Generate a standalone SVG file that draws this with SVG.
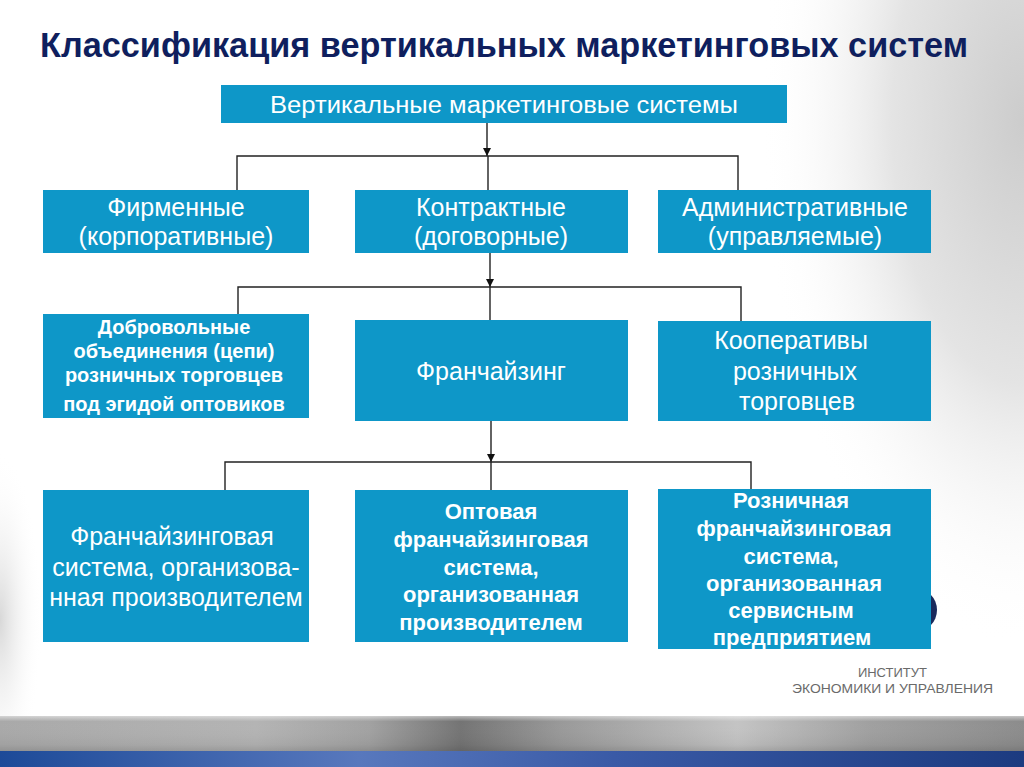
<svg xmlns="http://www.w3.org/2000/svg" width="1024" height="767" viewBox="0 0 1024 767">
<defs>
  <radialGradient id="bgR" cx="1024" cy="120" r="330" gradientUnits="userSpaceOnUse" gradientTransform="translate(1024 120) scale(0.8 1.6) translate(-1024 -120)">
    <stop offset="0" stop-color="#cccccc"/>
    <stop offset="0.5" stop-color="#e4e4e4"/>
    <stop offset="1" stop-color="#ffffff" stop-opacity="0"/>
  </radialGradient>
  <radialGradient id="leftR" cx="0" cy="620" r="120" gradientUnits="userSpaceOnUse" gradientTransform="translate(0 620) scale(0.35 1.4) translate(0 -620)">
    <stop offset="0" stop-color="#d8d8d8"/>
    <stop offset="1" stop-color="#ffffff" stop-opacity="0"/>
  </radialGradient>
  <linearGradient id="grayBand" x1="0" y1="0" x2="1" y2="0">
    <stop offset="0" stop-color="#a9a9a9"/>
    <stop offset="0.25" stop-color="#b4b4b4"/>
    <stop offset="0.36" stop-color="#a2a2a2"/>
    <stop offset="0.45" stop-color="#747474"/>
    <stop offset="0.55" stop-color="#9a9a9a"/>
    <stop offset="0.72" stop-color="#c4c4c4"/>
    <stop offset="0.85" stop-color="#a0a0a0"/>
    <stop offset="1" stop-color="#8c8c8c"/>
  </linearGradient>
  <linearGradient id="grayShade" x1="0" y1="0" x2="0" y2="1">
    <stop offset="0" stop-color="#ffffff" stop-opacity="0.5"/>
    <stop offset="0.15" stop-color="#ffffff" stop-opacity="0"/>
    <stop offset="0.8" stop-color="#000000" stop-opacity="0.05"/>
    <stop offset="1" stop-color="#000000" stop-opacity="0.15"/>
  </linearGradient>
  <linearGradient id="blueBand" x1="0" y1="0" x2="1" y2="0">
    <stop offset="0" stop-color="#1d4a98"/>
    <stop offset="0.35" stop-color="#5878bd"/>
    <stop offset="0.6" stop-color="#3a5aa6"/>
    <stop offset="1" stop-color="#1c3b80"/>
  </linearGradient>
  <marker id="arr" viewBox="0 0 10 10" refX="10" refY="5" markerWidth="8" markerHeight="8" markerUnits="userSpaceOnUse" orient="auto">
    <path d="M0,0 L10,5 L0,10 z" fill="#111"/>
  </marker>
  <style>
    .box { fill: #0e97c8; }
    .t { font-family: "Liberation Sans", Arial, sans-serif; font-size: 25px; fill: #ffffff; text-anchor: middle; }
    .b { font-family: "Liberation Sans", Arial, sans-serif; font-size: 20px; font-weight: bold; fill: #ffffff; text-anchor: middle; }
    .b2 { font-family: "Liberation Sans", Arial, sans-serif; font-size: 22px; font-weight: bold; fill: #ffffff; text-anchor: middle; }
    .c { stroke: #222; stroke-width: 1.4; fill: none; }
    .title { font-family: "Liberation Sans", Arial, sans-serif; font-size: 35px; font-weight: bold; fill: #0f1f5e; }
    .inst { font-family: "Liberation Sans", Arial, sans-serif; font-size: 13px; fill: #6a6a6a; text-anchor: end; }
  </style>
</defs>

<!-- background -->
<rect x="0" y="0" width="1024" height="767" fill="#ffffff"/>
<rect x="600" y="0" width="424" height="716" fill="url(#bgR)"/>
<rect x="0" y="420" width="60" height="296" fill="url(#leftR)"/>
<rect x="0" y="716" width="1024" height="36" fill="url(#grayBand)"/>
<rect x="0" y="716" width="1024" height="36" fill="url(#grayShade)"/>
<rect x="0" y="751" width="1024" height="16" fill="url(#blueBand)"/>

<!-- title -->
<text class="title" x="40" y="57" textLength="928" lengthAdjust="spacingAndGlyphs">Классификация вертикальных маркетинговых систем</text>

<!-- decorative logo circle -->
<circle cx="915" cy="610" r="22" fill="#1a2a5c"/>

<!-- connectors -->
<g id="connectors">
  <line class="c" x1="487" y1="123" x2="487" y2="156" marker-end="url(#arr)"/>
  <polyline class="c" points="237,190 237,156 738,156 738,190"/>
  <line class="c" x1="488" y1="156" x2="488" y2="190"/>

  <line class="c" x1="490" y1="253" x2="490" y2="287" marker-end="url(#arr)"/>
  <polyline class="c" points="238,314 238,287 741,287 741,321"/>
  <line class="c" x1="490" y1="287" x2="490" y2="320"/>

  <line class="c" x1="491" y1="421" x2="491" y2="462" marker-end="url(#arr)"/>
  <polyline class="c" points="225,490 225,462 751,462 751,489"/>
  <line class="c" x1="491" y1="462" x2="491" y2="490"/>
</g>

<!-- nodes -->
<g id="n-root">
  <rect class="box" x="221" y="85" width="566" height="38"/>
  <text class="t" x="504" y="113" style="font-size:23px" textLength="468" lengthAdjust="spacingAndGlyphs">Вертикальные маркетинговые системы</text>
</g>

<g id="n-firm">
  <rect class="box" x="43" y="190" width="266" height="63"/>
  <text class="t" x="176" y="216">Фирменные</text>
  <text class="t" x="176" y="245">(корпоративные)</text>
</g>
<g id="n-contract">
  <rect class="box" x="355" y="190" width="273" height="63"/>
  <text class="t" x="491" y="216">Контрактные</text>
  <text class="t" x="491" y="245">(договорные)</text>
</g>
<g id="n-admin">
  <rect class="box" x="658" y="190" width="273" height="63"/>
  <text class="t" x="795" y="216">Административные</text>
  <text class="t" x="795" y="245">(управляемые)</text>
</g>

<g id="n-voluntary">
  <rect class="box" x="43" y="314" width="266" height="104"/>
  <text class="b" x="174" y="334">Добровольные</text>
  <text class="b" x="174" y="358">объединения (цепи)</text>
  <text class="b" x="174" y="382">розничных торговцев</text>
  <text class="b" x="174" y="411">под эгидой оптовиков</text>
</g>
<g id="n-franchise">
  <rect class="box" x="355" y="320" width="273" height="101"/>
  <text class="t" x="491" y="380">Франчайзинг</text>
</g>
<g id="n-coop">
  <rect class="box" x="658" y="321" width="273" height="100"/>
  <text class="t" x="791" y="349">Кооперативы</text>
  <text class="t" x="795" y="380">розничных</text>
  <text class="t" x="797" y="410">торговцев</text>
</g>

<g id="n-producer">
  <rect class="box" x="43" y="490" width="266" height="152"/>
  <text class="t" x="172" y="545">Франчайзинговая</text>
  <text class="t" x="176" y="576">система, организова-</text>
  <text class="t" x="176" y="606">нная производителем</text>
</g>
<g id="n-wholesale">
  <rect class="box" x="355" y="490" width="273" height="152"/>
  <text class="b2" x="491" y="519">Оптовая</text>
  <text class="b2" x="491" y="547">франчайзинговая</text>
  <text class="b2" x="491" y="575">система,</text>
  <text class="b2" x="491" y="602">организованная</text>
  <text class="b2" x="491" y="630">производителем</text>
</g>
<g id="n-retail">
  <rect class="box" x="658" y="489" width="273" height="160"/>
  <text class="b2" x="791" y="508">Розничная</text>
  <text class="b2" x="794" y="536">франчайзинговая</text>
  <text class="b2" x="791" y="564">система,</text>
  <text class="b2" x="794" y="591">организованная</text>
  <text class="b2" x="791" y="618">сервисным</text>
  <text class="b2" x="792" y="645">предприятием</text>
</g>

<!-- institute label -->
<g id="institute">
  <text class="inst" x="927" y="677">ИНСТИТУТ</text>
  <text class="inst" x="993" y="693" textLength="201" lengthAdjust="spacingAndGlyphs">ЭКОНОМИКИ И УПРАВЛЕНИЯ</text>
</g>
</svg>
